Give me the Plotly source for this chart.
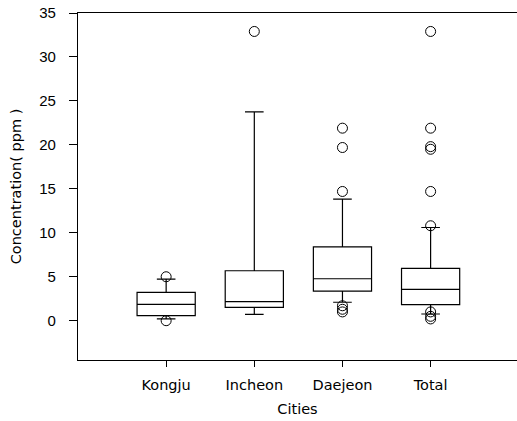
import plotly.graph_objects as go

cities = ["Kongju", "Incheon", "Daejeon", "Total"]
q1 = [0.57, 1.52, 3.37, 1.82]
median = [1.86, 2.16, 4.77, 3.57]
q3 = [3.23, 5.68, 8.40, 5.95]
lower_whisker = [0.2, 0.73, 2.1, 0.76]
upper_whisker = [4.74, 23.75, 13.83, 10.6]

outlier_city = ["Kongju", "Kongju", "Incheon",
                "Daejeon", "Daejeon", "Daejeon", "Daejeon", "Daejeon", "Daejeon",
                "Total", "Total", "Total", "Total", "Total", "Total", "Total", "Total", "Total"]
outlier_value = [5.0, 0.0, 32.9,
                 21.9, 19.7, 14.7, 1.7, 1.3, 1.0,
                 32.9, 21.9, 19.8, 19.5, 14.7, 10.8, 1.0, 0.5, 0.2]

y_ticks = [0, 5, 10, 15, 20, 25, 30, 35]

fig = go.Figure()
fig.add_trace(go.Box(
    x=cities, q1=q1, median=median, q3=q3,
    lowerfence=lower_whisker, upperfence=upper_whisker,
    boxpoints=False, width=0.66, whiskerwidth=0.32,
    line=dict(color="black", width=1.2), fillcolor="white",
    showlegend=False, hoverinfo="skip",
))
fig.add_trace(go.Scatter(
    x=outlier_city, y=outlier_value, mode="markers",
    marker=dict(symbol="circle-open", size=10, color="black", line=dict(width=1)),
    showlegend=False,
))

tick_font = dict(family="Liberation Sans, Arial, sans-serif", size=15, color="#000000")
label_font = dict(family="DejaVu Sans, sans-serif", size=14.5, color="#000000")
fig.update_layout(
    width=517, height=421,
    margin=dict(l=78, r=0, t=13, b=61),
    paper_bgcolor="white", plot_bgcolor="white",
    font=tick_font,
    xaxis=dict(
        type="category", categoryorder="array", categoryarray=cities,
        range=[-1, 3.98], automargin=False,
        showline=True, linecolor="black", linewidth=1.2, mirror=True,
        ticks="outside", ticklen=6, tickcolor="black",
        showgrid=False, zeroline=False,
        tickfont=label_font,
        ticklabelstandoff=5,
        title=dict(text="Cities", standoff=12, font=label_font),
    ),
    yaxis=dict(
        range=[-4.47, 35], automargin=False,
        tickvals=y_ticks,
        showline=True, linecolor="black", linewidth=1.2,
        ticks="outside", ticklen=8, tickcolor="black",
        showgrid=False, zeroline=False,
        tickfont=tick_font,
        ticklabelstandoff=10,
        title=dict(text="Concentration( ppm )", standoff=14, font=label_font),
    ),
)

fig.write_html("out.html",
               config={"displayModeBar": False},
               post_script="document.body.style.margin='0px';document.body.style.overflow='hidden';")
